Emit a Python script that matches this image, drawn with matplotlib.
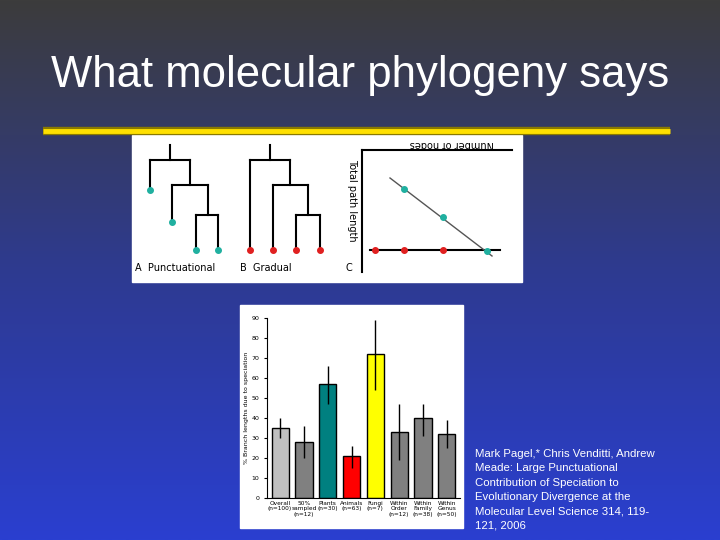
import numpy as np
import matplotlib
matplotlib.use("Agg")
import matplotlib.pyplot as plt
from matplotlib.colors import LinearSegmentedColormap

categories = ["Overall\n(n=100)", "50%\nsampled\n(n=12)", "Plants\n(n=30)", "Animals\n(n=63)",
              "Fungi\n(n=7)", "Within\nOrder\n(n=12)", "Within\nFamily\n(n=38)", "Within\nGenus\n(n=50)"]
values = [35, 28, 57, 21, 72, 33, 40, 32]
err_low = [30, 20, 47, 15, 54, 19, 31, 25]
err_high = [40, 36, 66, 26, 89, 47, 47, 39]
colors = ["#c0c0c0", "#808080", "#008080", "#ff0000", "#ffff00", "#808080", "#808080", "#808080"]
yticks = [0, 10, 20, 30, 40, 50, 60, 70, 80, 90]

fig = plt.figure(figsize=(7.2, 5.4), dpi=100)
bg = fig.add_axes([0, 0, 1, 1])
cmap = LinearSegmentedColormap.from_list("bg", ["#3c3c3c", "#2e3a90", "#2a3fd0"])
bg.imshow(np.linspace(0, 1, 256)[:, None], aspect="auto", cmap=cmap, extent=[0, 1, 0, 1])
bg.set_xlim(0, 1); bg.set_ylim(0, 1); bg.axis("off")
bg.text(0.5, 1-76/540, "What molecular phylogeny says", color="white", fontsize=31.5,
        ha="center", va="center", family="Liberation Sans")
bg.plot([43/720, 670/720], [1-131/540]*2, color="#8a7a00", lw=6, solid_capstyle="butt")
bg.plot([43/720, 670/720], [1-131/540]*2, color="#ffe000", lw=3.5, solid_capstyle="butt")
bg.add_patch(plt.Rectangle((132/720, 1-282/540), 390/720, 147/540, color="white"))
bg.add_patch(plt.Rectangle((240/720, 1-528/540), 223/720, 223/540, color="white"))
bg.text(475/720, 1-449/540,
        "Mark Pagel,* Chris Venditti, Andrew\nMeade: Large Punctuational\nContribution of Speciation to\nEvolutionary Divergence at the\nMolecular Level Science 314, 119-\n121, 2006",
        color="white", fontsize=8.2, va="top", ha="left", linespacing=1.55, family="Liberation Sans")

tr = fig.add_axes([132/720, 1-282/540, 390/720, 147/540])
tr.set_xlim(132, 522); tr.set_ylim(282, 135); tr.axis("off")
k = dict(color="black", lw=1.5)
def seg(x1, y1, x2, y2, **kw):
    tr.plot([x1, x2], [y1, y2], **{**k, **kw})
seg(170, 145, 170, 160); seg(150, 160, 190, 160); seg(150, 160, 150, 190)
seg(190, 160, 190, 185); seg(172, 185, 208, 185); seg(172, 185, 172, 222)
seg(208, 185, 208, 215); seg(196, 215, 218, 215); seg(196, 215, 196, 250); seg(218, 215, 218, 250)
for x, y in [(150, 190), (172, 222), (196, 250), (218, 250)]:
    tr.plot(x, y, "o", color="#20b0a0", ms=4)
tr.text(135, 268, "A  Punctuational", fontsize=7, va="center")
seg(270, 145, 270, 160); seg(250, 160, 290, 160); seg(250, 160, 250, 250)
seg(290, 160, 290, 185); seg(273, 185, 308, 185); seg(273, 185, 273, 250)
seg(308, 185, 308, 215); seg(296, 215, 320, 215); seg(296, 215, 296, 250); seg(320, 215, 320, 250)
for x in [250, 273, 296, 320]:
    tr.plot(x, 250, "o", color="#e02020", ms=4)
tr.text(240, 268, "B  Gradual", fontsize=7, va="center")
seg(362, 150, 362, 272); seg(362, 150, 512, 150)
seg(370, 250, 500, 250)
seg(390, 178, 492, 256, lw=1, color="#555555")
for x, y in [(404, 189), (443, 217), (487, 251)]:
    tr.plot(x, y, "o", color="#20b0a0", ms=4)
for x in [375, 404, 443]:
    tr.plot(x, 250, "o", color="#e02020", ms=4)
tr.text(410, 144, "Number of nodes", fontsize=7, va="center", rotation=180)
tr.text(352, 200, "Total path length", fontsize=7, va="center", ha="center", rotation=-90)
tr.text(345, 268, "C", fontsize=7, va="center")

ax = fig.add_axes([267/720, 1-498/540, 193/720, 180/540])
x = np.arange(len(values))
yerr = [np.array(values) - np.array(err_low), np.array(err_high) - np.array(values)]
ax.bar(x, values, color=colors, edgecolor="black", linewidth=1, width=0.72,
       yerr=yerr, error_kw=dict(ecolor="black", elinewidth=1, capsize=0))
ax.set_ylim(0, 90)
ax.set_xlim(-0.55, len(values) - 0.45)
ax.set_yticks(yticks)
ax.tick_params(axis="y", labelsize=4.5, length=2)
ax.set_xticks(x)
ax.set_xticklabels(categories, fontsize=4.2, linespacing=1.1)
ax.tick_params(axis="x", length=0, pad=2)
for s in ["top", "right"]:
    ax.spines[s].set_visible(False)
ax.set_ylabel("% Branch lengths due to speciation", fontsize=4.5, labelpad=2)
ax.set_facecolor("white")
fig.savefig("out.png", dpi=100)
